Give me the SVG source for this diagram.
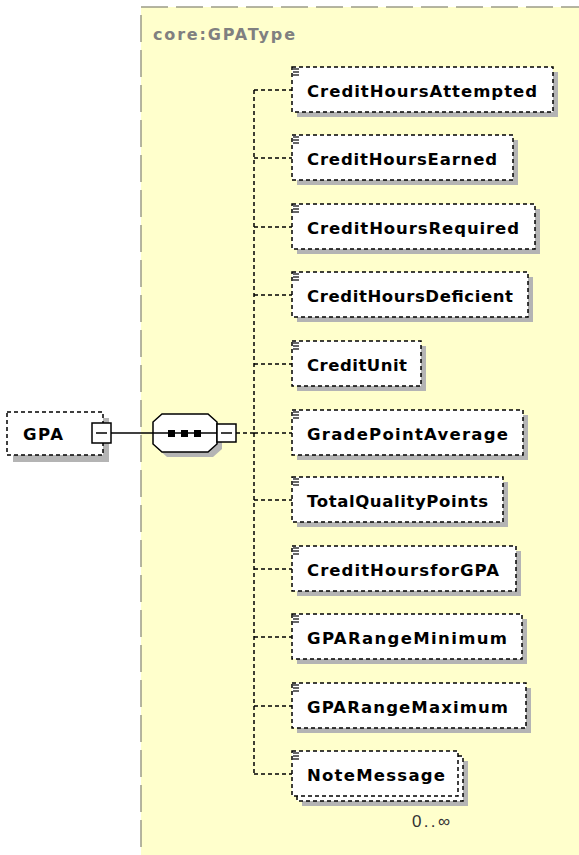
<svg xmlns="http://www.w3.org/2000/svg" width="579" height="855" viewBox="0 0 579 855">
<defs>
<style>
.bg{fill:#FFFFFF}
.type{fill:#FFFFCC;stroke:#9C9C88;stroke-width:1.5;stroke-dasharray:27 8}
.typelbl{font-family:"DejaVu Sans",sans-serif;font-weight:bold;font-size:16px;fill:#808080}
.shadow{fill:#B4B4B4}
.box{fill:#FFFFFF;stroke:#000;stroke-width:1.5;stroke-dasharray:4 3}
.lbl{font-family:"DejaVu Sans",sans-serif;font-weight:bold;font-size:16.5px;fill:#000}
.icon{stroke:#000;stroke-width:1.2}
.dash{fill:none;stroke:#000;stroke-width:1.5;stroke-dasharray:4 3}
.solid{fill:none;stroke:#000;stroke-width:1.5}
.btn{fill:#FFFFFF;stroke:#000;stroke-width:1.5}
.occ{font-family:"Liberation Sans",sans-serif;font-size:17px;fill:#333}
</style>
<g id="ico"><line class="icon" x1="293" y1="-21" x2="299" y2="-21"/><line class="icon" x1="293" y1="-18" x2="299" y2="-18"/><line class="icon" x1="293" y1="-15" x2="299" y2="-15"/></g>
</defs>
<rect class="bg" x="0" y="0" width="579" height="855"/>
<rect class="type" x="141" y="7" width="460" height="870"/>
<text class="typelbl" x="153" y="40" textLength="142">core:GPAType</text>

<g id="connectors">
<line class="solid" x1="111" y1="433" x2="217" y2="433"/>
<line class="dash" x1="236" y1="433" x2="254" y2="433"/>
<line class="dash" x1="254" y1="90" x2="254" y2="774"/>
<line class="dash" x1="254" y1="90" x2="292" y2="90"/>
<line class="dash" x1="254" y1="158" x2="292" y2="158"/>
<line class="dash" x1="254" y1="227" x2="292" y2="227"/>
<line class="dash" x1="254" y1="295" x2="292" y2="295"/>
<line class="dash" x1="254" y1="364" x2="292" y2="364"/>
<line class="dash" x1="254" y1="433" x2="292" y2="433"/>
<line class="dash" x1="254" y1="500" x2="292" y2="500"/>
<line class="dash" x1="254" y1="569" x2="292" y2="569"/>
<line class="dash" x1="254" y1="637" x2="292" y2="637"/>
<line class="dash" x1="254" y1="706" x2="292" y2="706"/>
<line class="dash" x1="254" y1="774" x2="292" y2="774"/>
</g>

<g id="GPA">
<rect class="shadow" x="13" y="418" width="96" height="44"/>
<rect class="box" x="7" y="412" width="96" height="43"/>
<text class="lbl" x="23" y="439.5" textLength="40">GPA</text>
<rect class="btn" x="92" y="423" width="19" height="20"/>
<line class="solid" x1="96" y1="433" x2="107" y2="433"/>
</g>

<g id="sequence">
<polygon class="shadow" points="167,419 213,419 222,427 222,449 213,457 167,457 158,449 158,427"/>
<polygon class="btn" points="162,414 208,414 217,422 217,444 208,452 162,452 153,444 153,422"/>
<line class="solid" x1="153" y1="433" x2="217" y2="433"/>
<rect x="168" y="430" width="7" height="7" fill="#000"/>
<rect x="181" y="430" width="7" height="7" fill="#000"/>
<rect x="194" y="430" width="7" height="7" fill="#000"/>
<rect class="btn" x="217" y="424" width="19" height="18"/>
<line class="solid" x1="221" y1="433" x2="232" y2="433"/>
</g>

<g id="CreditHoursAttempted" transform="translate(0,90)">
<rect class="shadow" x="297" y="-18" width="261" height="45"/>
<rect class="box" x="292" y="-23" width="261" height="45"/>
<use href="#ico"/>
<text class="lbl" x="307" y="6.5" textLength="230">CreditHoursAttempted</text>
</g>
<g id="CreditHoursEarned" transform="translate(0,158)">
<rect class="shadow" x="297" y="-18" width="221" height="45"/>
<rect class="box" x="292" y="-23" width="221" height="45"/>
<use href="#ico"/>
<text class="lbl" x="307" y="6.5" textLength="190">CreditHoursEarned</text>
</g>
<g id="CreditHoursRequired" transform="translate(0,227)">
<rect class="shadow" x="297" y="-18" width="243" height="45"/>
<rect class="box" x="292" y="-23" width="243" height="45"/>
<use href="#ico"/>
<text class="lbl" x="307" y="6.5" textLength="212">CreditHoursRequired</text>
</g>
<g id="CreditHoursDeficient" transform="translate(0,295)">
<rect class="shadow" x="297" y="-18" width="236" height="45"/>
<rect class="box" x="292" y="-23" width="236" height="45"/>
<use href="#ico"/>
<text class="lbl" x="307" y="6.5" textLength="206">CreditHoursDeficient</text>
</g>
<g id="CreditUnit" transform="translate(0,364)">
<rect class="shadow" x="297" y="-18" width="129" height="45"/>
<rect class="box" x="292" y="-23" width="129" height="45"/>
<use href="#ico"/>
<text class="lbl" x="307" y="6.5" textLength="100">CreditUnit</text>
</g>
<g id="GradePointAverage" transform="translate(0,433)">
<rect class="shadow" x="297" y="-18" width="231" height="45"/>
<rect class="box" x="292" y="-23" width="231" height="45"/>
<use href="#ico"/>
<text class="lbl" x="307" y="6.5" textLength="201">GradePointAverage</text>
</g>
<g id="TotalQualityPoints" transform="translate(0,500)">
<rect class="shadow" x="297" y="-18" width="211" height="45"/>
<rect class="box" x="292" y="-23" width="211" height="45"/>
<use href="#ico"/>
<text class="lbl" x="307" y="6.5" textLength="181">TotalQualityPoints</text>
</g>
<g id="CreditHoursforGPA" transform="translate(0,569)">
<rect class="shadow" x="297" y="-18" width="224" height="45"/>
<rect class="box" x="292" y="-23" width="224" height="45"/>
<use href="#ico"/>
<text class="lbl" x="307" y="6.5" textLength="192">CreditHoursforGPA</text>
</g>
<g id="GPARangeMinimum" transform="translate(0,637)">
<rect class="shadow" x="297" y="-18" width="230" height="45"/>
<rect class="box" x="292" y="-23" width="230" height="45"/>
<use href="#ico"/>
<text class="lbl" x="307" y="6.5" textLength="200">GPARangeMinimum</text>
</g>
<g id="GPARangeMaximum" transform="translate(0,706)">
<rect class="shadow" x="297" y="-18" width="234" height="45"/>
<rect class="box" x="292" y="-23" width="234" height="45"/>
<use href="#ico"/>
<text class="lbl" x="307" y="6.5" textLength="201">GPARangeMaximum</text>
</g>
<g id="NoteMessage" transform="translate(0,774)">
<rect class="shadow" x="302" y="-13" width="166" height="45"/>
<rect class="box" x="297" y="-18" width="166" height="45"/>
<rect class="box" x="292" y="-23" width="166" height="45"/>
<use href="#ico"/>
<text class="lbl" x="307" y="6.5" textLength="138">NoteMessage</text>
<text class="occ" x="412" y="53" textLength="38">0..∞</text>
</g>
</svg>
